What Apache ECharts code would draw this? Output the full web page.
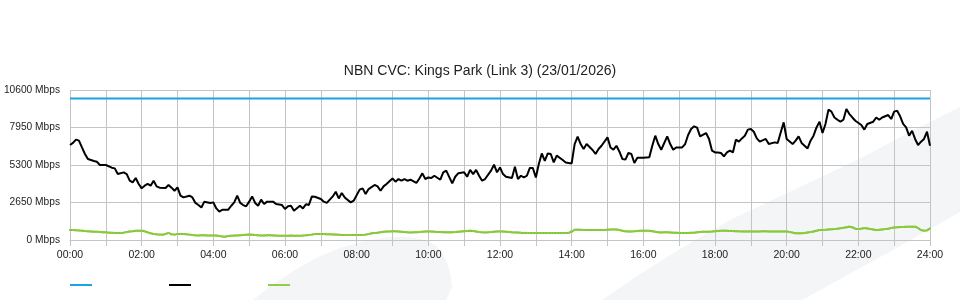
<!DOCTYPE html>
<html>
<head>
<meta charset="utf-8">
<script src="https://cdn.jsdelivr.net/npm/echarts@6/dist/echarts.min.js"></script>
<style>
html,body{margin:0;padding:0;background:#fff;}
#chart{width:960px;height:300px;}
</style>
</head>
<body>
<div id="chart"></div>
<script>
// ---- data ----
const chartTitle = 'NBN CVC: Kings Park (Link 3) (23/01/2026)';
const xTickLabels = ['00:00','02:00','04:00','06:00','08:00','10:00','12:00','14:00','16:00','18:00','20:00','22:00','24:00'];
const yTicks = [0, 2650, 5300, 7950, 10600];
const seriesNames = ['Capacity', 'Download', 'Upload'];
const capacityMbps = 10000;

// download: [minute of day, Mbps]
const downloadPoints = [
[0,6710],[5,6860],[10,7090],[15,7020],[20,6540],[25,6080],[30,5720],[40,5580],[45,5530],[50,5300],[60,5300],[70,5110],[75,5060],[80,4660],[90,4780],[95,4660],[100,4190],[105,4070],[110,4380],[115,3960],[120,3650],[125,3840],[130,3960],[135,3840],[140,4190],[145,3790],[150,3700],[160,3680],[165,3890],[170,3700],[175,3480],[180,3720],[185,3130],[190,3010],[200,3130],[205,3010],[210,2620],[215,2470],[220,2300],[225,2710],[235,2620],[240,2660],[245,2230],[250,2000],[255,2140],[265,2140],[270,2420],[275,2660],[280,3130],[285,2620],[290,2470],
[295,2380],[300,2710],[305,3080],[310,2620],[315,2420],[320,2850],[325,2540],[330,2710],[340,2710],[345,2540],[355,2470],[360,2190],[365,2380],[370,2420],[375,2070],[385,2420],[390,2230],[395,2520],[400,2470],[405,3080],[410,3060],[420,2900],[425,2710],[430,2620],[440,3080],[445,3410],[450,2940],[455,3320],[460,3010],[470,2660],[475,2780],[485,3560],[490,3650],[495,3250],[500,3600],[510,3890],[515,3790],[520,3480],[525,3790],[530,3960],[540,4350],[545,4120],[550,4310],[555,4190],[560,4310],[565,4190],[570,4260],[580,4030],[585,4350],
[590,4710],[595,4310],[600,4420],[605,4380],[610,4540],[620,4260],[625,4780],[630,4900],[640,4000],[645,4470],[650,4710],[660,4780],[665,4470],[670,4950],[675,4660],[680,4950],[685,4540],[690,4190],[695,4310],[705,4900],[710,5320],[715,4780],[720,5130],[725,4660],[730,4470],[740,4380],[745,5180],[750,4310],[755,4540],[760,4420],[765,4540],[770,5090],[775,5090],[780,4420],[785,5370],[790,6120],[795,5600],[800,6120],[805,6080],[810,5480],[815,5960],[825,5650],[830,5480],[840,5410],[845,6780],[850,7300],[855,6780],[860,6430],[865,6780],[875,6360],
[880,6080],[885,6430],[890,6660],[900,7250],[905,6540],[910,6380],[915,6660],[920,6240],[925,5720],[930,5680],[935,6150],[940,6080],[945,5440],[950,5820],[960,5820],[970,5840],[975,6660],[980,7370],[985,6780],[990,6380],[1000,7320],[1005,6780],[1010,6380],[1015,6540],[1025,6540],[1030,6780],[1035,7420],[1040,7840],[1045,8030],[1050,7940],[1055,7320],[1065,7560],[1070,7140],[1075,6310],[1080,6190],[1085,6190],[1090,6150],[1095,5910],[1100,6190],[1105,6310],[1110,6190],[1115,7090],[1120,6950],[1125,7180],[1130,7370],[1135,7800],[1140,7840],[1145,7650],[1150,7180],[1155,6950],[1165,7140],
[1170,6780],[1180,6900],[1185,6860],[1190,7600],[1195,8310],[1200,7140],[1210,6780],[1215,7020],[1220,7320],[1225,6860],[1235,6470],[1240,7020],[1245,7370],[1250,7960],[1255,8360],[1260,7560],[1265,8200],[1270,9210],[1275,9070],[1280,8660],[1285,8500],[1290,8360],[1295,8500],[1300,9260],[1305,8900],[1310,8660],[1315,8430],[1325,8130],[1330,7800],[1335,8200],[1345,8360],[1350,8660],[1355,8500],[1360,8660],[1370,8830],[1375,8550],[1380,9070],[1385,9140],[1390,8740],[1395,8200],[1400,7960],[1405,7370],[1410,7720],[1415,7140],[1420,6710],[1425,6950],[1430,7140],[1435,7650],[1440,6660]
];

// upload: one value every 5 minutes, 00:00 .. 24:00
const uploadMbps = [
710,700,690,680,660,640,610,600,590,580,570,540,
540,520,510,500,495,500,520,560,600,620,650,660,
650,620,540,480,430,400,380,375,420,500,400,380,
420,430,420,400,380,350,330,320,330,330,320,320,
325,310,290,240,230,280,300,310,320,340,360,370,
380,370,350,330,320,320,330,330,320,310,300,300,
300,300,310,300,300,300,310,330,360,380,420,420,
420,420,410,400,390,380,370,360,360,355,355,350,
350,350,355,380,420,470,500,520,550,580,600,608,
610,610,600,580,560,540,537,540,550,560,580,600,
608,600,590,570,560,550,540,540,545,560,580,600,
620,640,657,640,600,560,540,537,540,560,590,608,
608,600,580,560,540,537,530,510,500,495,495,495,
495,500,495,490,495,495,495,500,495,495,495,500,
600,720,730,720,710,710,700,700,710,710,700,700,
720,740,750,740,700,650,610,600,608,620,640,650,
657,660,650,620,580,540,537,540,540,530,520,510,
500,495,495,500,510,520,540,560,580,580,590,600,
620,640,650,657,650,640,630,620,610,608,608,608,
608,600,600,608,610,610,608,600,600,600,608,608,
600,560,520,480,470,480,500,530,560,600,650,700,
707,720,740,760,777,800,830,860,900,940,900,800,
777,800,848,820,780,740,700,720,750,777,800,850,
890,900,910,920,930,940,940,940,850,700,657,680,
820
];

// ---- chart ----
const FONT = '"Liberation Sans", Arial, sans-serif';
const chart = echarts.init(document.getElementById('chart'), null, {renderer: 'canvas'});
const gridColor = '#c4c4c4';

const option = {
  animation: false,
  backgroundColor: '#ffffff',
  textStyle: {fontFamily: FONT},
  title: {
    text: chartTitle,
    left: 'center',
    top: 59,
    textStyle: {fontSize: 14, fontWeight: 'normal', color: '#222', fontFamily: FONT}
  },
  graphic: [
    {
      type: 'polygon', z: -10, silent: true,
      shape: {points: [[253,300],[272,285],[295,270],[318,257],[340,248],[365,241],[390,237],[408,237],[425,240],[437,246],[445,258],[450,272],[452,287],[446,300]]},
      style: {fill: '#f4f5f7'}
    },
    {
      type: 'polygon', z: -10, silent: true,
      shape: {points: [[602,300],[640,274],[685,246],[730,220],[770,201],[815,180],[863,157],[910,132],[960,107],[960,212],[893,250],[802,300]]},
      style: {fill: '#f4f5f7'}
    }
  ],
  legend: {
    left: 65,
    top: 279,
    icon: 'rect',
    itemWidth: 22,
    itemHeight: 2,
    itemGap: 77,
    formatter: function () { return ''; },
    textStyle: {fontSize: 1},
    selectedMode: false,
    data: seriesNames
  },
  grid: {left: 70, right: 30, top: 90, bottom: 60},
  xAxis: {
    type: 'value',
    min: 0,
    max: 1440,
    interval: 60,
    axisLine: {show: true, lineStyle: {color: gridColor, width: 1}},
    axisTick: {show: true, length: 6, lineStyle: {color: gridColor}},
    splitLine: {show: true, lineStyle: {color: gridColor, width: 1}},
    axisLabel: {
      fontSize: 10.5,
      color: '#222',
      margin: 10,
      fontFamily: FONT,
      showMinLabel: true,
      showMaxLabel: true,
      formatter: function (v) {
        return (v % 120 === 0) ? xTickLabels[v / 120] : '';
      }
    }
  },
  yAxis: {
    type: 'value',
    min: yTicks[0],
    max: yTicks[yTicks.length - 1],
    interval: yTicks[1] - yTicks[0],
    axisLine: {show: false},
    axisTick: {show: false},
    splitLine: {show: true, lineStyle: {color: gridColor, width: 1}},
    axisLabel: {
      fontSize: 10.2,
      color: '#222',
      margin: 10,
      fontFamily: FONT,
      formatter: function (v) { return v + ' Mbps'; }
    }
  },
  series: [
    {
      name: seriesNames[0],
      type: 'line',
      data: [[0, capacityMbps], [1440, capacityMbps]],
      showSymbol: false,
      lineStyle: {color: '#1ca3e0', width: 2},
      itemStyle: {color: '#1ca3e0'},
      z: 3
    },
    {
      name: seriesNames[1],
      type: 'line',
      data: downloadPoints,
      showSymbol: false,
      lineStyle: {color: '#000000', width: 2},
      itemStyle: {color: '#000000'},
      z: 4
    },
    {
      name: seriesNames[2],
      type: 'line',
      data: uploadMbps.map(function (v, i) { return [i * 5, v]; }),
      showSymbol: true,
      symbol: 'rect',
      symbolSize: 2,
      lineStyle: {color: '#7cbf2c', width: 2},
      itemStyle: {color: '#8fcf45'},
      z: 4
    }
  ]
};
chart.setOption(option);
</script>
</body>
</html>
